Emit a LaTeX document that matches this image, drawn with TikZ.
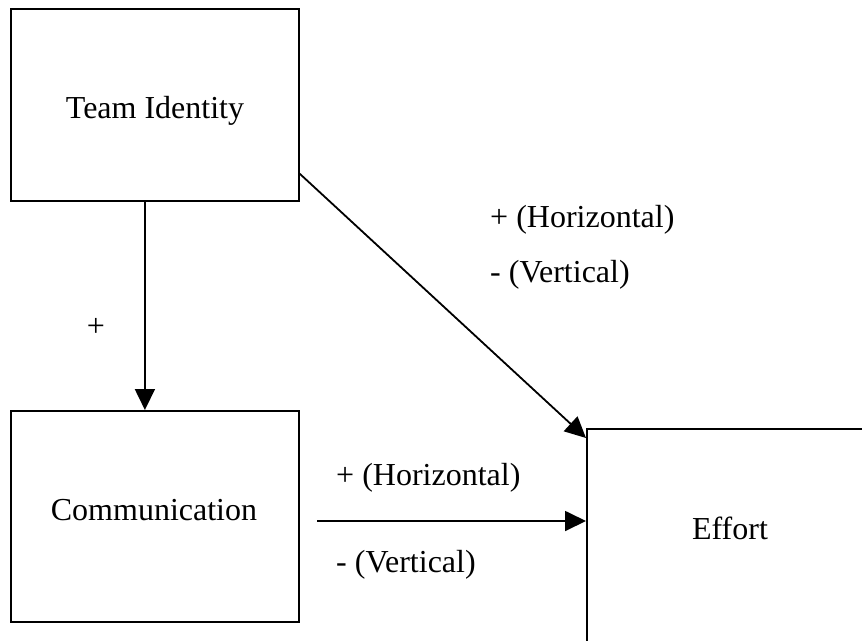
\documentclass[tikz,border=0pt]{standalone}
\usepackage{fontspec}
\setmainfont{Liberation Serif}
\usetikzlibrary{arrows.meta}
\begin{document}
\begin{tikzpicture}[x=1pt,y=-1pt,
  box/.style={draw, line width=1.8pt, inner sep=0pt, anchor=north west},
  txt/.style={inner sep=0pt, font=\fontsize{32}{38}\selectfont},
  arr/.style={line width=1.8pt, -{Triangle[length=21pt,width=20pt]}}]
\useasboundingbox (0,0) rectangle (862,640);

% boxes
\node[box, minimum width=288pt, minimum height=192pt] (team) at (10,8) {};
\node[box, minimum width=288pt, minimum height=211pt] (comm) at (10,410) {};
\node[box, minimum width=300pt, minimum height=260pt] (effort) at (586,428) {};

% box captions
\node[txt, anchor=base] (teamtext) at (155,118) {Team Identity};
\node[txt, anchor=base] (commtext) at (154,520) {Communication};
\node[txt, anchor=base] (efforttext) at (730,539) {Effort};

% connectors
\draw[arr] ([xshift=-10pt]team.south) -- ([xshift=-10pt]comm.north);
\draw[arr] ([yshift=28pt]team.south east) -- ([yshift=-10pt]effort.north west);
\coordinate (hstart) at (317,521);
\draw[arr] (hstart) -- (hstart -| effort.west);

% path labels
\node[txt, anchor=base] (plus) at (96,336) {+};
\node[txt, anchor=base west] (dh) at (490,227) {+ (Horizontal)};
\node[txt, anchor=base west] (dv) at (490,282) {- (Vertical)};
\node[txt, anchor=base west] (ch) at (336,485) {+ (Horizontal)};
\node[txt, anchor=base west] (cv) at (336,572) {- (Vertical)};
\end{tikzpicture}
\end{document}
